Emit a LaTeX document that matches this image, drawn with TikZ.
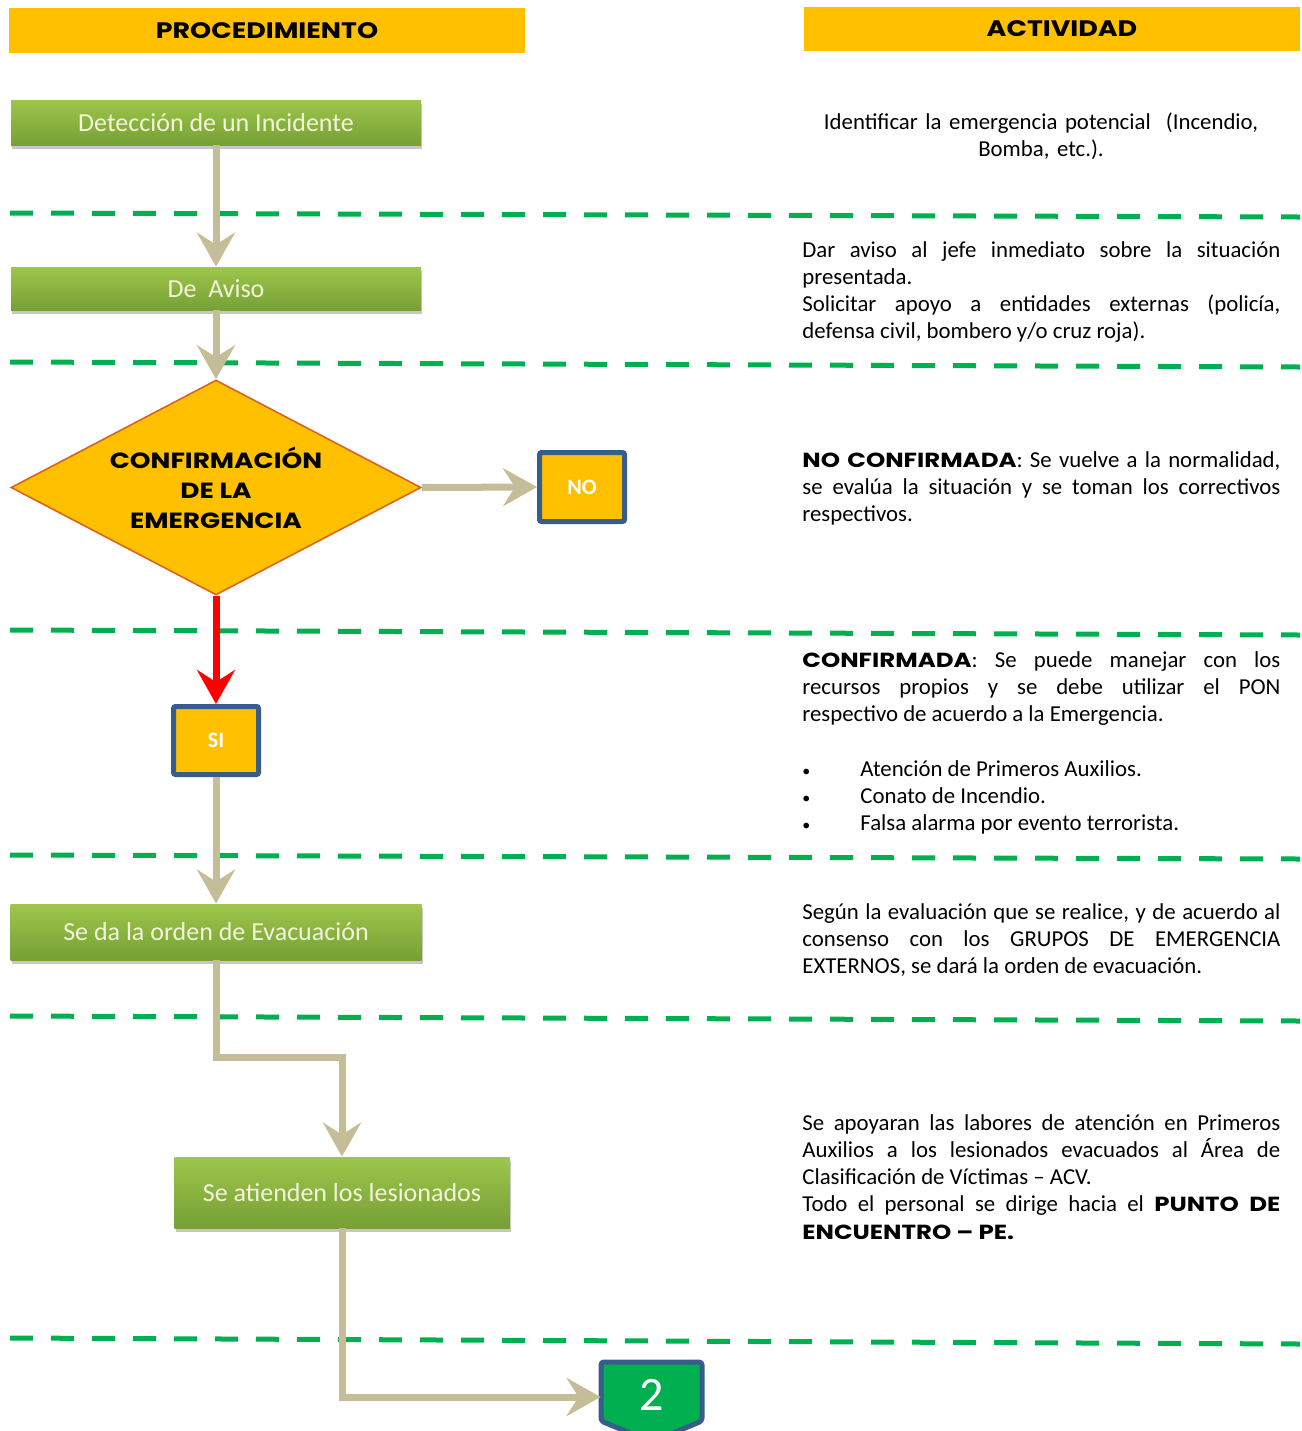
\documentclass[tikz,border=0pt]{standalone}
\usepackage{fontspec}
\setmainfont{Carlito}
\newfontfamily\heavyfont{Poppins}[FakeStretch=1.2]
\usetikzlibrary{arrows.meta,shadows,shapes.geometric}
\definecolor{amber}{HTML}{FFC000}
\definecolor{leafhi}{HTML}{9DC64B}
\definecolor{leaflo}{HTML}{76A035}
\definecolor{tanline}{HTML}{C4BD97}
\definecolor{rulegreen}{HTML}{00B050}
\definecolor{navy}{HTML}{385D8A}
\definecolor{cream}{HTML}{F4F4DC}
\definecolor{rimred}{HTML}{D9641E}
\newcommand\heavytext[1]{{\heavyfont\bfseries\fontsize{10.2}{13.65}\selectfont #1}}
\tikzset{
    header/.style={fill=amber, inner sep=0, font=\heavyfont\bfseries\fontsize{11.2}{12}\selectfont},
    stepbox/.style={top color=leafhi, bottom color=leaflo, text=cream, inner sep=0,
        font=\fontsize{13}{15}\selectfont,
        drop shadow={shadow xshift=.6pt, shadow yshift=-1.8pt, opacity=.22, fill=black}},
    answer/.style={fill=amber, draw=navy, line width=2.5pt, rounded corners=1pt, text=white, inner sep=0,
        minimum width=42.5pt, minimum height=34.5pt, font=\bfseries\fontsize{11}{12}\selectfont},
    flow/.style={draw=tanline, line width=3.5pt, -{Stealth[length=17pt,width=19pt,inset=6pt]}},
    note/.style={anchor=base west, text width=239pt, align=justify, inner sep=0,
        font=\fontsize{11.4}{13.65}\selectfont}
}
\begin{document}
\begin{tikzpicture}[x=.5pt,y=-.5pt]
\useasboundingbox (0,0) rectangle (1302,1431);
%separators
\foreach \yl/\yr in {213/217, 362/367, 630/635, 855/859, 1016/1021, 1338/1344}{
    \path[draw, rulegreen, line width=2.5pt, dash pattern=on 11.5pt off 9pt] (10,\yl) -- (1300,\yr);
}
%headers
\node[header, minimum width=258pt, minimum height=22.5pt] (proc) at (267,30.5){PROCEDIMIENTO};
\node[header, minimum width=248pt, minimum height=22pt] (activ) at (1052,29){\hspace{10pt}ACTIVIDAD};
%procedure
\node[stepbox, minimum width=205pt, minimum height=22.5pt] (detect) at (216,122.5){Detección de un Incidente};
\node[stepbox, minimum width=205pt, minimum height=21.5pt] (aviso) at (216,288.5){De~ Aviso};
\node[shape=diamond, aspect=1.9, fill=amber, draw=rimred, line width=.8pt, inner sep=0,
    minimum width=205pt, minimum height=107.5pt, align=center,
    font=\heavyfont\bfseries\fontsize{11}{15}\selectfont] (confirm) at (216,487.5){CONFIRMACIÓN\\DE LA\\EMERGENCIA};
\node[answer] (no) at (582,487){NO};
\node[answer, minimum height=34pt] (si) at (216,740.5){SI};
\node[stepbox, minimum width=205.5pt, minimum height=28pt] (evac) at (216,932){Se da la orden de Evacuación};
\node[stepbox, minimum width=167.5pt, minimum height=35.5pt] (lesion) at (342,1192.5){Se atienden los lesionados};
%off page connector
\path[draw=navy, fill=rulegreen, line width=2.5pt, rounded corners=1.5pt]
    (601,1362) -- (702,1362) -- (702,1421) -- (651.5,1442) -- (601,1421) -- cycle;
\node[text=white, inner sep=0, minimum width=50.5pt, minimum height=24pt,
    font=\fontsize{24}{24}\selectfont] (page) at (651.5,1397){\raisebox{2.5pt}{2}};
%arrows
\draw[flow] (detect) -- (aviso);
\draw[flow] (aviso) -- (confirm.north);
\draw[flow] (confirm.east) -- (no.west);
\draw[flow, draw=red] (confirm.south) -- (si.north);
\draw[flow] (si) -- (evac);
\draw[flow] (evac.south) -- ++(0,97) -| (lesion.north);
\draw[flow] (lesion.south) |- (page.west);
%activities
\node[note, anchor=base, align=center] (act1) at (1041,129){Identificar la emergencia potencial~ (Incendio,\\ Bomba, etc.).};
\node[note] (act2) at (802,257){Dar aviso al jefe inmediato sobre la situación\linebreak presentada.\\
    Solicitar apoyo a entidades externas (policía,\linebreak defensa civil, bombero y/o cruz roja).};
\node[note] (act3) at (802,467){\heavytext{NO CONFIRMADA}: Se vuelve a la normalidad,\linebreak
    se evalúa la situación y se toman los correctivos\linebreak respectivos.};
\node[note] (act4) at (802,667){\heavytext{CONFIRMADA}: Se puede manejar con los\linebreak
    recursos propios y se debe utilizar el PON\linebreak respectivo de acuerdo a la Emergencia.\\[13.65pt]
    \makebox[29pt][l]{\fontsize{8}{8}\selectfont\textbullet}Atención de Primeros Auxilios.\\
    \makebox[29pt][l]{\fontsize{8}{8}\selectfont\textbullet}Conato de Incendio.\\
    \makebox[29pt][l]{\fontsize{8}{8}\selectfont\textbullet}Falsa alarma por evento terrorista.};
\node[note] (act5) at (802,919){Según la evaluación que se realice, y de acuerdo al\linebreak
    consenso con los GRUPOS DE EMERGENCIA\linebreak EXTERNOS, se dará la orden de evacuación.};
\node[note] (act6) at (802,1130){Se apoyaran las labores de atención en Primeros\linebreak
    Auxilios a los lesionados evacuados al Área de\linebreak Clasificación de Víctimas – ACV.\\
    Todo el personal se dirige hacia el \heavytext{PUNTO DE\linebreak ENCUENTRO – PE.}};
\end{tikzpicture}
\end{document}
